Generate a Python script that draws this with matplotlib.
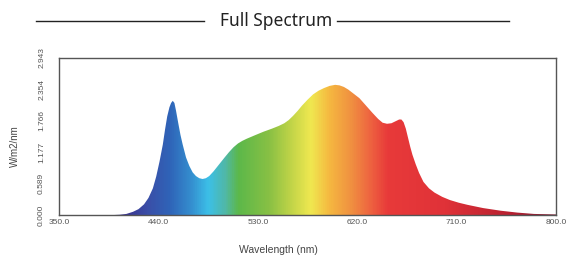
import matplotlib
matplotlib.use("Agg")
import matplotlib.pyplot as plt
import numpy as np
from matplotlib.colors import LinearSegmentedColormap
from matplotlib.lines import Line2D

# spectrum (nm, W/m2/nm)
wavelength = [350, 400, 405, 411, 417, 422, 427, 431, 435, 438, 441, 444, 446, 448,
              450, 451.5, 453, 454.5, 456, 458, 460, 462, 465, 468, 471, 474, 477,
              480, 483, 486, 490, 495, 500, 504, 508, 512, 516, 520, 528, 535, 543,
              549, 554, 558, 562, 566, 570, 575, 580, 585, 590, 595, 600, 604, 608, 612,
              617, 622, 628, 634, 639, 643, 647, 651, 655, 658, 660, 662, 664, 666,
              668, 670, 673, 676, 680, 685, 690, 697, 704, 712, 720, 734, 750, 765,
              780, 800]
power = [0.0, 0.0, 0.005, 0.02, 0.06, 0.11, 0.2, 0.32, 0.5, 0.72, 1.0, 1.32, 1.6, 1.85,
         2.02, 2.10, 2.14, 2.10, 1.95, 1.72, 1.5, 1.32, 1.08, 0.92, 0.80, 0.73, 0.69,
         0.675, 0.69, 0.73, 0.82, 0.95, 1.08, 1.18, 1.27, 1.34, 1.39, 1.43, 1.50, 1.56, 1.62,
         1.67, 1.72, 1.78, 1.86, 1.95, 2.05, 2.16, 2.26, 2.33, 2.38, 2.42, 2.44, 2.43, 2.40, 2.35,
         2.27, 2.19, 2.05, 1.91, 1.80, 1.73, 1.71, 1.72, 1.76, 1.79, 1.79, 1.74, 1.62, 1.45,
         1.28, 1.13, 0.95, 0.79, 0.62, 0.50, 0.42, 0.34, 0.28, 0.23, 0.19, 0.13, 0.08, 0.045,
         0.02, 0.01]

xticks = [350, 440, 530, 620, 710, 800]
yticks = [0.000, 0.589, 1.177, 1.766, 2.354, 2.943]

# colour stops along the wavelength axis
stop_nm = [350, 410, 430, 450, 470, 485, 500, 512, 540, 560, 578, 595, 615, 632, 648, 700, 760, 800]
stop_col = ["#3a2a78", "#3a3590", "#3a4fa8", "#2f64b8", "#3590d0", "#3cc0e8", "#50b8a8",
            "#5cb84a", "#88c044", "#c0d448", "#f0e850", "#f5b840", "#f09040", "#ee6440",
            "#e83a3a", "#e03238", "#b82030", "#7a1a30"]

fig = plt.figure(figsize=(5.67, 2.6), dpi=100)
ax = fig.add_axes([59 / 567, 45 / 260, 497 / 567, 157 / 260])

lo, hi = stop_nm[0], stop_nm[-1]
cmap = LinearSegmentedColormap.from_list(
    "spec", [((n - lo) / (hi - lo), c) for n, c in zip(stop_nm, stop_col)])
grad = np.linspace(lo, hi, 900).reshape(1, -1)

poly = ax.fill_between(wavelength, power, 0, color="none", lw=0)
img = ax.imshow(grad, cmap=cmap, aspect="auto", extent=[lo, hi, 0, yticks[-1]],
                origin="lower", zorder=1)
img.set_clip_path(poly.get_paths()[0], transform=ax.transData)

ax.set_xlim(350, 800)
ax.set_ylim(0, yticks[-1])
ax.set_xticks(xticks)
ax.set_xticklabels([f"{v:.1f}" for v in xticks])
ax.set_yticks(yticks)
ax.set_yticklabels([f"{v:.3f}" for v in yticks], rotation=90, va="center")
ax.tick_params(length=0, labelsize=6, labelcolor="#555555", labelfontfamily="Liberation Sans")
ax.tick_params(axis="x", pad=3)
ax.tick_params(axis="y", pad=10)
for s in ax.spines.values():
    s.set_color("#555555")
    s.set_linewidth(1.0)

fig.text(15 / 567, 1 - 146 / 260, "W/m2/nm", rotation=90, ha="center", va="center",
         fontsize=7, color="#444444", family="Liberation Sans")
fig.text(278 / 567, 1 - 250 / 260, "Wavelength (nm)", ha="center", va="center",
         fontsize=7.5, color="#444444", family="Liberation Sans")

fig.text(276 / 567, 1 - 21 / 260, "Full Spectrum", ha="center", va="center",
         fontsize=12.5, color="#222222", family="Noto Sans")
y = 1 - 21 / 260
fig.add_artist(Line2D([36 / 567, 204 / 567], [y, y], color="#222222", lw=1))
fig.add_artist(Line2D([337 / 567, 509 / 567], [y, y], color="#222222", lw=1))

fig.savefig("out.png", dpi=100)
